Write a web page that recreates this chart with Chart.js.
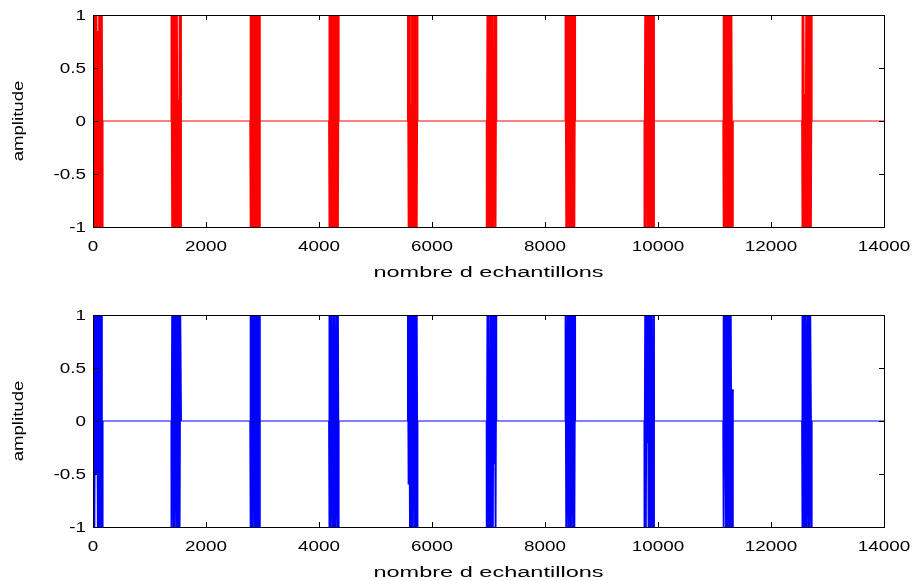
<!DOCTYPE html>
<html>
<head>
<meta charset="utf-8">
<script src="https://cdn.jsdelivr.net/npm/chart.js@4"></script>
<style>
  html,body{margin:0;padding:0;background:#fff;}
  #wrap{position:relative;width:919px;height:581px;overflow:hidden;background:#fff;}
  canvas{position:absolute;left:0;}
</style>
</head>
<body>
<div id="wrap">
  <canvas id="c1" width="919" height="290" style="top:0px"></canvas>
  <canvas id="c2" width="919" height="291" style="top:290px"></canvas>
</div>
<script>
// ---------- data ----------
const xTickValues = [0, 2000, 4000, 6000, 8000, 10000, 12000, 14000];
const xTickLabels = ['0', '2000', '4000', '6000', '8000', '10000', '12000', '14000'];
const yTickValues = [1, 0.5, 0, -0.5, -1];
const yTickLabels = ['1', '0.5', '0', '-0.5', '-1'];
const xTitle = 'nombre d echantillons';
const yTitle = 'amplitude';
const signalEnd = 14000;

// burst start sample indices
const topBurstStarts    = [0, 1388, 2783, 4178, 5573, 6968, 8363, 9760, 11155, 12550];
const bottomBurstStarts = [0, 1388, 2783, 4178, 5573, 6968, 8363, 9760, 11155, 12550];
// sample offsets inside a burst
const burstOffsets = [0, 1, 13, 25, 37, 49, 61, 73, 85, 97, 109, 121, 133, 145, 157, 169, 170];

// amplitudes inside each burst (top, red)
const topBurstValues = [
  [1,-1,1,-1,1,-1,1,-1,0.85,-1,1,-1,1,-1,1,-1,0],
  [0,1,-1,1,-1,1,-1,1,-1,1,-1,0.2,-1,1,-1,1,0],
  [0,-1,1,-1,1,-1,1,-1,1,-1,1,-1,1,-1,1,-1,0],
  [0,1,-1,1,-1,1,-1,1,-1,1,-1,1,-1,1,-1,1,0],
  [0,1,-1,1,-1,0.15,-1,1,-1,1,-1,1,-1,1,-1,1,0],
  [0,-1,1,-1,1,-1,1,-1,1,-1,1,-1,-0.3,1,-1,1,0],
  [0,1,-1,1,-1,1,-1,1,-1,1,-1,1,-1,1,-1,1,0],
  [0,-1,1,-1,1,0.9,-1,1,-1,1,-1,1,-1,1,-1,1,0],
  [0,1,-1,1,-1,1,-1,1,-1,1,-1,1,-1,1,-1,-1,0],
  [0,1,-1,1,-1,0.25,-1,1,-1,1,-1,1,-1,1,-1,1,0]
];
// amplitudes inside each burst (bottom, blue)
const bottomBurstValues = [
  [1,-1,1,-1,1,-0.5,1,1,-1,1,-1,1,-1,1,-1,-1,0],
  [0,-1,1,-0.3,-1,1,-1,1,1,-1,1,-1,1,-1,1,1,0],
  [0,1,-1,1,-1,1,0.4,-1,1,-1,1,-1,1,1,-1,1,0],
  [0,-1,1,-1,1,1,-1,1,-1,1,-1,-1,1,-1,1,-1,0],
  [0,1,-0.6,1,-1,1,-1,1,-1,1,1,-1,1,-1,1,-1,0],
  [0,-1,1,-1,1,-1,-1,1,-1,1,-1,1,-0.4,1,-1,1,0],
  [0,1,-1,-1,1,-1,1,-1,1,-1,1,1,-1,1,-1,1,0],
  [0,-1,1,-1,1,-0.2,1,-1,1,-1,1,-1,1,-1,-1,1,0],
  [0,1,-1,1,1,-1,1,-1,1,-1,1,-1,1,-1,0.3,-1,0],
  [0,-1,1,-1,1,-1,1,-1,-1,1,-1,1,-1,1,1,-1,0]
];

function buildSeries(starts, values) {
  const pts = [];
  starts.forEach((s, k) => {
    burstOffsets.forEach((o, i) => pts.push({x: s + o, y: values[k][i]}));
  });
  pts.push({x: signalEnd, y: 0});
  return pts;
}

// ---------- drawing helpers ----------
const FONT = '"Liberation Sans", Arial, Helvetica, sans-serif';
function stretchedText(ctx, text, x, y, size, sx, align, rotate) {
  ctx.save();
  ctx.font = size + 'px ' + FONT;
  ctx.fillStyle = '#000';
  ctx.textBaseline = 'middle';
  ctx.translate(x, y);
  if (rotate) ctx.rotate(-Math.PI / 2);
  ctx.scale(sx, 1);
  ctx.textAlign = align;
  ctx.fillText(text, 0, 0);
  ctx.restore();
}

const matlabAxes = {
  id: 'matlabAxes',
  afterDatasetsDraw(chart) {
    const ctx = chart.ctx;
    const a = chart.chartArea;
    const xs = chart.scales.x, ys = chart.scales.y;
    ctx.save();
    ctx.strokeStyle = '#000';
    ctx.lineWidth = 1;
    ctx.strokeRect(Math.round(a.left) + 0.5, Math.round(a.top) + 0.5,
                   Math.round(a.right - a.left), Math.round(a.bottom - a.top));
    const tl = 5;
    ctx.beginPath();
    xTickValues.forEach(v => {
      const px = Math.round(xs.getPixelForValue(v)) + 0.5;
      ctx.moveTo(px, a.bottom); ctx.lineTo(px, a.bottom - tl);
      ctx.moveTo(px, a.top); ctx.lineTo(px, a.top + tl);
    });
    yTickValues.forEach(v => {
      const py = Math.round(ys.getPixelForValue(v)) + 0.5;
      ctx.moveTo(a.left, py); ctx.lineTo(a.left + tl, py);
      ctx.moveTo(a.right, py); ctx.lineTo(a.right - tl, py);
    });
    ctx.stroke();
    ctx.restore();
    xTickValues.forEach((v, i) => {
      stretchedText(ctx, xTickLabels[i], xs.getPixelForValue(v), a.bottom + 20, 14.5, 1.3, 'center', false);
    });
    yTickValues.forEach((v, i) => {
      stretchedText(ctx, yTickLabels[i], a.left - 7, ys.getPixelForValue(v) + 1, 14.5, 1.3, 'right', false);
    });
    stretchedText(ctx, xTitle, (a.left + a.right) / 2, a.bottom + 46, 14, 1.68, 'center', false);
    stretchedText(ctx, yTitle, 19, (a.top + a.bottom) / 2, 14, 1.33, 'center', true);
  }
};

function makeChart(id, data, color, pad) {
  return new Chart(document.getElementById(id), {
    type: 'line',
    data: {
      datasets: [{
        data: data,
        borderColor: color,
        borderWidth: 1,
        pointRadius: 0,
        tension: 0,
        fill: false,
        segment: {
          borderWidth: c => (c.p0.parsed.y === 0 && c.p1.parsed.y === 0) ? 1 : 1.9
        }
      }]
    },
    options: {
      responsive: false,
      animation: false,
      events: [],
      layout: { padding: pad },
      scales: {
        x: { type: 'linear', min: 0, max: 14000, display: false },
        y: { type: 'linear', min: -1, max: 1, display: false }
      },
      plugins: { legend: { display: false }, tooltip: { enabled: false } }
    },
    plugins: [matlabAxes]
  });
}

makeChart('c1', buildSeries(topBurstStarts, topBurstValues), '#ff0000',
          { left: 93, right: 35, top: 15, bottom: 63 });
makeChart('c2', buildSeries(bottomBurstStarts, bottomBurstValues), '#0000ff',
          { left: 93, right: 35, top: 25, bottom: 54 });
</script>
</body>
</html>
